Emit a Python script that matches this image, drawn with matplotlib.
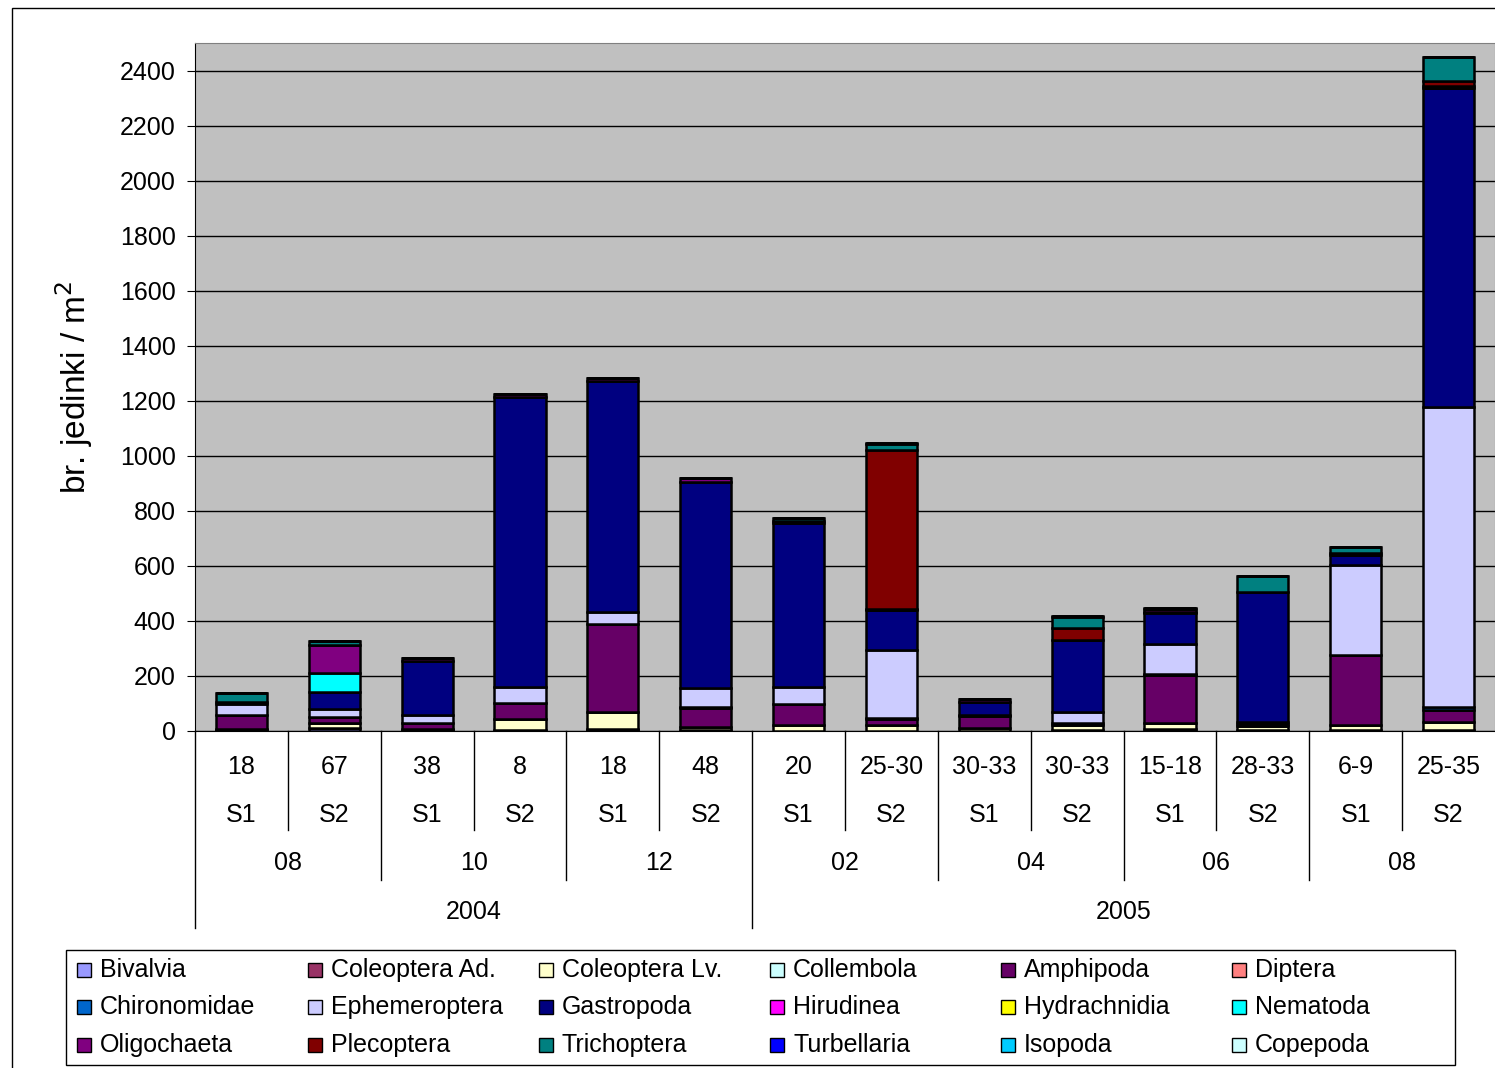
import numpy as np
import matplotlib
matplotlib.use("Agg")
import matplotlib.pyplot as plt
from matplotlib.patches import Rectangle

plt.rcParams['font.family'] = ['Liberation Sans', 'DejaVu Sans']

# -- data
sites = ['18', '67', '38', '8', '18', '48', '20', '25-30', '30-33', '30-33',
         '15-18', '28-33', '6-9', '25-35']
stations = ['S1', 'S2'] * 7
months = ['08', '10', '12', '02', '04', '06', '08']
years = ['2004', '2005']

taxa = ['Bivalvia', 'Coleoptera Ad.', 'Coleoptera Lv.', 'Collembola', 'Amphipoda',
        'Diptera', 'Chironomidae', 'Ephemeroptera', 'Gastropoda', 'Hirudinea',
        'Hydrachnidia', 'Nematoda', 'Oligochaeta', 'Plecoptera', 'Trichoptera',
        'Turbellaria', 'Isopoda', 'Copepoda']
colors = ['#9999FF', '#993366', '#FFFFCC', '#CCFFFF', '#660066', '#FF8080',
          '#0066CC', '#CCCCFF', '#000080', '#FF00FF', '#FFFF00', '#00FFFF',
          '#800080', '#800000', '#008080', '#0000FF', '#00CCFF', '#CCFFFF']

bivalvia      = [3, 12, 3, 0, 3, 0, 0, 0, 0, 3, 8, 3, 3, 3]
coleoptera_ad = [4, 0, 3, 3, 3, 3, 0, 0, 0, 0, 0, 0, 0, 0]
coleoptera_lv = [0, 18, 0, 42, 64, 10, 21, 22, 10, 20, 20, 15, 19, 30]
collembola    = [0] * 14
amphipoda     = [50, 22, 24, 58, 318, 70, 76, 22, 45, 5, 174, 8, 254, 45]
diptera       = [0] * 14
chironomidae  = [0, 0, 0, 0, 0, 6, 0, 5, 4, 0, 6, 0, 0, 9]
ephemeroptera = [40, 28, 28, 57, 44, 66, 63, 245, 0, 42, 109, 6, 328, 1090]
gastropoda    = [10, 63, 198, 1053, 839, 751, 594, 146, 47, 259, 111, 473, 35, 1158]
hirudinea     = [0, 0, 0, 0, 0, 0, 0, 0, 0, 0, 6, 0, 0, 0]
hydrachnidia  = [0] * 14
nematoda      = [0, 67, 0, 0, 0, 0, 0, 0, 0, 0, 0, 0, 0, 0]
oligochaeta   = [0, 103, 8, 11, 11, 13, 10, 3, 9, 0, 10, 0, 7, 10]
plecoptera    = [0, 0, 0, 0, 0, 0, 0, 578, 0, 46, 0, 0, 0, 17]
trichoptera   = [30, 14, 0, 0, 0, 0, 10, 21, 0, 39, 0, 58, 21, 86]
turbellaria   = [0, 0, 0, 0, 0, 0, 0, 6, 0, 4, 4, 0, 0, 0]
isopoda       = [0] * 14
copepoda      = [0] * 14

series = [bivalvia, coleoptera_ad, coleoptera_lv, collembola, amphipoda, diptera,
          chironomidae, ephemeroptera, gastropoda, hirudinea, hydrachnidia, nematoda,
          oligochaeta, plecoptera, trichoptera, turbellaria, isopoda, copepoda]

W, H = 1495, 1068
fig = plt.figure(figsize=(W / 100, H / 100), dpi=100)
ax = fig.add_axes([195 / W, 1 - 731 / H, 1300 / W, 688 / H])
ax.set_facecolor('#C0C0C0')

x = np.arange(len(sites))
bottom = np.zeros(len(sites))
for vals, col in zip(series, colors):
    v = np.array(vals, dtype=float)
    ax.bar(x, v, width=0.55, bottom=bottom, color=col, edgecolor='black',
           linewidth=1.8, zorder=3)
    bottom += v

ax.set_xlim(-0.5, len(sites) - 0.5)
ax.set_ylim(0, 2500)
ax.set_yticks(np.arange(0, 2401, 200))
ax.tick_params(axis='y', labelsize=18, length=6, direction='out', pad=8)
ax.set_xticks([])
ax.yaxis.grid(True, color='black', linewidth=1)
ax.set_axisbelow(True)
for s in ['top', 'right']:
    ax.spines[s].set_color('#808080')
ax.spines['left'].set_color('black')
ax.spines['bottom'].set_color('black')
ax.set_ylabel('br. jedinki / m$^{2}$', fontsize=24, labelpad=18)

# -- multi-level category axis
tr = ax.get_xaxis_transform()
def ay(py):
    return (731 - py) / 688

fs = 18
for i in range(len(sites)):
    ax.text(i, ay(767), sites[i], transform=tr, ha='center', va='center', fontsize=fs)
    ax.text(i, ay(815), stations[i], transform=tr, ha='center', va='center', fontsize=fs)
for m in range(len(months)):
    ax.text(2 * m + 0.5, ay(863), months[m], transform=tr, ha='center', va='center', fontsize=fs)
ax.text(2.5, ay(912), years[0], transform=tr, ha='center', va='center', fontsize=fs)
ax.text(9.5, ay(912), years[1], transform=tr, ha='center', va='center', fontsize=fs)

for b in np.arange(-0.5, len(sites) - 0.5, 1.0):
    k = int(b + 0.5)
    if k == 0 or k == 6:
        low = 928
    elif k % 2 == 0:
        low = 880
    else:
        low = 830
    ax.plot([b, b], [0, ay(low)], transform=tr, color='black', linewidth=1,
            clip_on=False)

# -- outer frame (top at y=8, left at x=12)
fig.patches.append(Rectangle((12, -10), W, H - 8 + 10, transform=None, fill=False,
                             edgecolor='black', linewidth=1))

# -- legend (row-major, 6 columns)
fig.patches.append(Rectangle((66, H - 1065), 1455 - 66, 1065 - 950, transform=None,
                             fill=False, edgecolor='black', linewidth=1))
rows_y = [970, 1007, 1045]
cols_x = [77, 308, 539, 770, 1001, 1232]
for idx, (name, col) in enumerate(zip(taxa, colors)):
    r, c = divmod(idx, 6)
    px, py = cols_x[c], rows_y[r]
    fig.patches.append(Rectangle((px, H - py - 7), 14, 14, transform=None,
                                 facecolor=col, edgecolor='black', linewidth=1))
    fig.text((px + 23) / W, 1 - py / H, name, ha='left', va='center', fontsize=18)

plt.savefig('out.png', dpi=100)
